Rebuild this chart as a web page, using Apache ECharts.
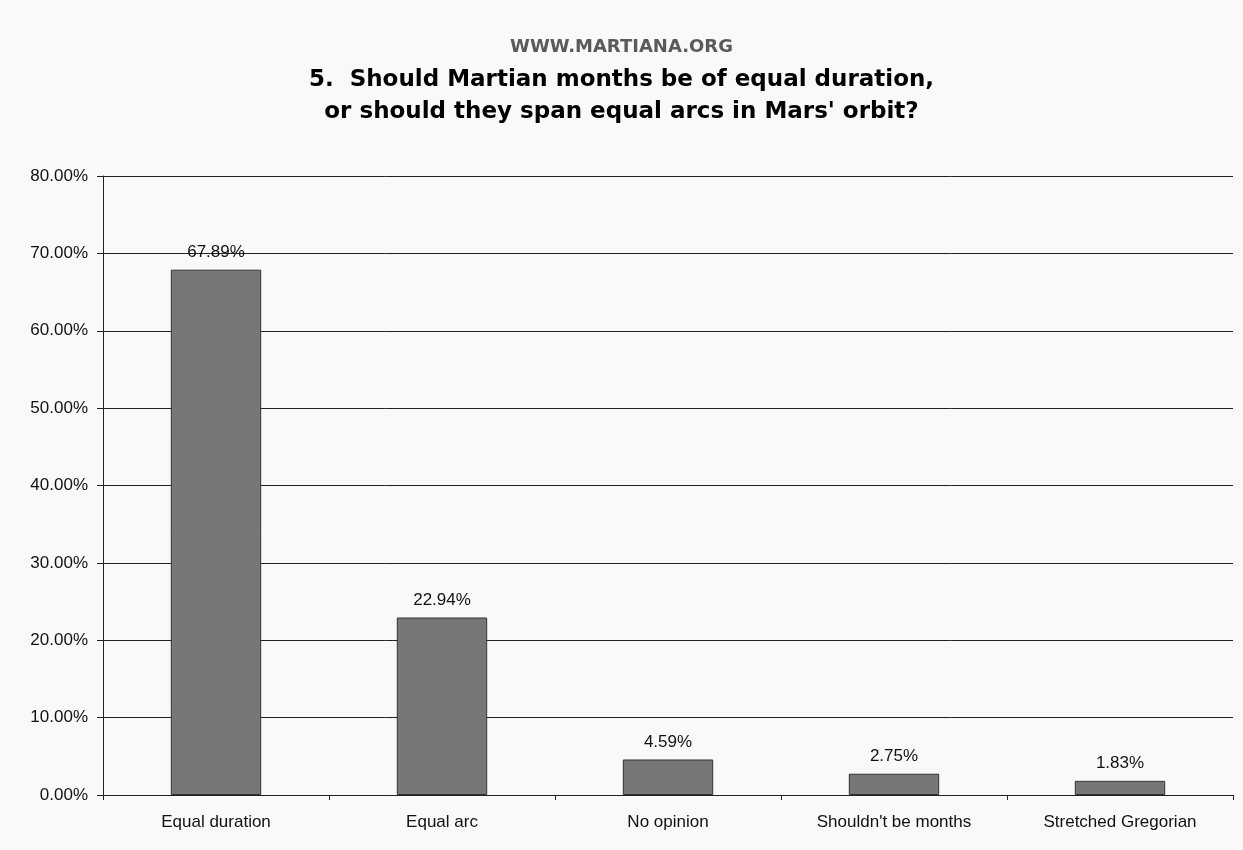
<!DOCTYPE html>
<html>
<head>
<meta charset="utf-8">
<script src="https://cdn.jsdelivr.net/npm/echarts@6/dist/echarts.min.js"></script>
<style>
html,body{margin:0;padding:0;background:#f9f9f9;}
#c{width:1243px;height:850px;}
</style>
</head>
<body>
<div id="c"></div>
<script>
const siteLabel = "WWW.MARTIANA.ORG";
const titleLines = "5.  Should Martian months be of equal duration,\nor should they span equal arcs in Mars' orbit?";
const categories = ["Equal duration", "Equal arc", "No opinion", "Shouldn't be months", "Stretched Gregorian"];
const values = [67.89, 22.94, 4.59, 2.75, 1.83];
const yTicks = [0, 10, 20, 30, 40, 50, 60, 70, 80];

const chart = echarts.init(document.getElementById('c'), null, {renderer: 'canvas'});
chart.setOption({
  backgroundColor: '#f9f9f9',
  animation: false,
  title: [
    {
      text: siteLabel, left: 'center', top: 33,
      textStyle: {fontFamily: 'DejaVu Sans', fontWeight: 'bold', fontSize: 18, color: '#5a5a5a'}
    },
    {
      text: titleLines, left: 'center', top: 59,
      textStyle: {fontFamily: 'DejaVu Sans', fontWeight: 'bold', fontSize: 23, color: '#000', lineHeight: 32}
    }
  ],
  grid: {left: 103, right: 10, top: 176, bottom: 55, containLabel: false},
  xAxis: {
    type: 'category',
    data: categories,
    axisLine: {lineStyle: {color: '#222', width: 1}},
    axisTick: {show: true, alignWithLabel: false, length: 5, lineStyle: {color: '#222'}},
    axisLabel: {fontFamily: 'Liberation Sans', fontSize: 17, color: '#111', margin: 19}
  },
  yAxis: {
    type: 'value',
    min: yTicks[0], max: yTicks[yTicks.length - 1], interval: 10,
    axisLine: {show: true, lineStyle: {color: '#222', width: 1}},
    axisTick: {show: true, inside: false, length: 6, lineStyle: {color: '#222'}},
    axisLabel: {fontFamily: 'Liberation Sans', fontSize: 17, color: '#111', margin: 15,
      formatter: v => v.toFixed(2) + '%'},
    splitLine: {show: true, lineStyle: {color: '#222', width: 1}}
  },
  series: [{
    type: 'bar',
    data: values,
    barWidth: '40%',
    itemStyle: {color: '#777777', borderColor: '#333', borderWidth: 1},
    label: {show: true, position: 'top', distance: 9, fontFamily: 'Liberation Sans', fontSize: 17, color: '#111',
      formatter: p => p.value.toFixed(2) + '%'}
  }]
});
</script>
</body>
</html>
